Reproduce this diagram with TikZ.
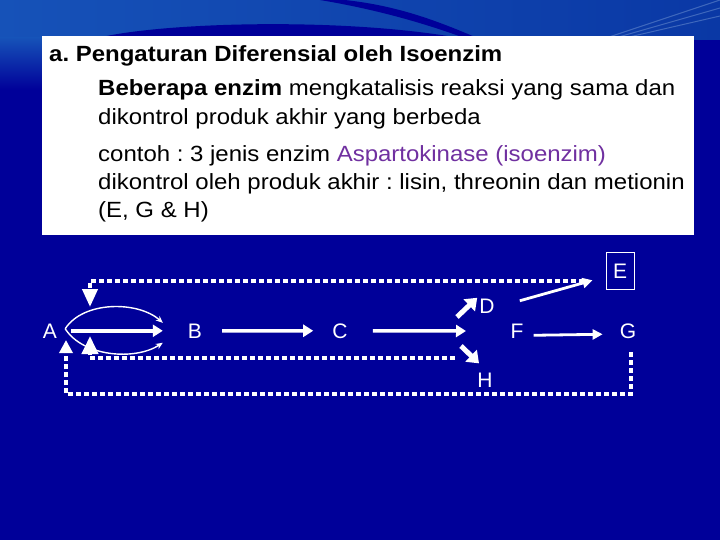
\documentclass[tikz,border=0pt]{standalone}
\usepackage{fontspec}
\setmainfont{Liberation Sans}
\newfontfamily\slidefont[FakeStretch=1.09]{Liberation Sans}
\usetikzlibrary{arrows.meta,calc}
\definecolor{slidebg}{RGB}{0,0,153}
\definecolor{wavelight}{RGB}{22,82,184}
\definecolor{wavemid}{RGB}{10,56,165}
\definecolor{isopurple}{RGB}{112,48,160}
\frenchspacing

\tikzset{
  txt/.style={anchor=base west, inner sep=0pt, font=\slidefont\fontsize{22}{26}\selectfont},
  mol/.style={text=white, inner sep=1pt, anchor=base, font=\fontsize{21}{25}\selectfont},
  flow/.style={white, line width=3.5pt, -{Triangle[length=10pt,width=12pt]}},
  thinflow/.style={white, line width=2.8pt, -{Triangle[length=10pt,width=10pt]}},
  branch/.style={white, line width=5pt, -{Triangle[length=11pt,width=16pt]}},
  bypass/.style={white, line width=1.4pt, -{Stealth[length=7pt,width=6pt]}},
  feedback/.style={white, line width=4pt, dash pattern=on 5pt off 3pt},
}

\begin{document}
\begin{tikzpicture}[x=1pt, y=-1pt]
  \useasboundingbox (0,0) rectangle (720,540);

  % slide background
  \fill[slidebg] (0,0) rectangle (720,540);
  \shade[left color=wavelight, right color=wavemid] (0,0) rectangle (720,40);
  \shade[top color=wavelight, bottom color=slidebg] (0,38) rectangle (42,90);
  \fill[slidebg] (90,40) .. controls (150,22) and (350,16) .. (470,40) -- cycle;
  \fill[slidebg] (320,0) .. controls (380,10) and (430,25) .. (470,40)
    -- (482,40) .. controls (440,22) and (400,6) .. (345,0) -- cycle;
  \foreach \dx in {0,8,16}
    \draw[wavelight!60!white, line width=1pt, opacity=0.5] (600+\dx,40) -- (720,\dx);

  % text box
  \fill[white] (42,36) rectangle (694,235);
  \node[txt] (title) at (49,62)  {\textbf{a. Pengaturan Diferensial oleh Isoenzim}};
  \node[txt] (l1)    at (98,96)  {\textbf{Beberapa enzim} mengkatalisis reaksi yang sama dan};
  \node[txt] (l2)    at (98,125) {dikontrol produk akhir yang berbeda};
  \node[txt] (l3)    at (98,162) {contoh : 3 jenis enzim \textcolor{isopurple}{Aspartokinase (isoenzim)}};
  \node[txt] (l4)    at (98,190) {dikontrol oleh produk akhir : lisin, threonin dan metionin};
  \node[txt] (l5)    at (98,218) {(E, G \& H)};

  % pathway
  \node[mol] (A) at (50,338)  {A};
  \node[mol] (B) at (195,338) {B};
  \node[mol] (C) at (340,338) {C};
  \node[mol] (D) at (487,313) {D};
  \node[mol] (F) at (517,338) {F};
  \node[mol] (G) at (628,338) {G};
  \node[mol] (H) at (485,387) {H};
  \node[mol, draw=white, line width=0.8pt, inner xsep=7pt, inner ysep=11pt] (E) at (620,278) {E};
  \coordinate (fork) at (466,331);

  \draw[flow, shorten <=13pt, shorten >=24pt] (A.east) -- (B.west);
  \draw[bypass] ($(A.east)+(7,-2)$) .. controls +(18,-28) and +(-25,-22) .. ($(B.west)+(-24,-8)$);
  \draw[bypass] ($(A.east)+(7,-2)$) .. controls +(18,28) and +(-28,18) .. ($(B.west)+(-24,12)$);
  \draw[flow, shorten <=19pt, shorten >=18pt] (B.east) -- (C.west);
  \draw[flow, shorten <=24pt] (C.east) -- (fork);
  \draw[branch] ($(fork)+(-9,-14)$) -- ($(D.west)+(-1,-8)$);
  \draw[branch] ($(fork)+(-5,15)$) -- ($(H.north)+(-6,-8)$);
  \draw[thinflow] ($(D.east)+(24,-5)$) -- ($(E.west)+(-13,9.5)$);
  \draw[thinflow] ($(F.east)+(9,4.5)$) -- ($(G.west)+(-16,3.5)$);

  % end product inhibition
  \coordinate (efb) at ($(E.west)+(-22,10)$);
  \coordinate (hfb) at ($(H.north)+(-30,-13)$);
  \coordinate (gfb) at ($(G.south)+(3,13)$);
  \coordinate (atop) at (90,307);
  \coordinate (amid) at (90,336);
  \coordinate (abot) at (66,340);
  \draw[feedback, -{Triangle[length=18pt,width=15pt]}] (efb) -| (atop);
  \draw[feedback, -{Triangle[length=18pt,width=16pt]}] (hfb) -| (amid);
  \draw[feedback, -{Triangle[length=13pt,width=13pt]}] (gfb) -- ++(0,42) -| (abot);
\end{tikzpicture}
\end{document}
